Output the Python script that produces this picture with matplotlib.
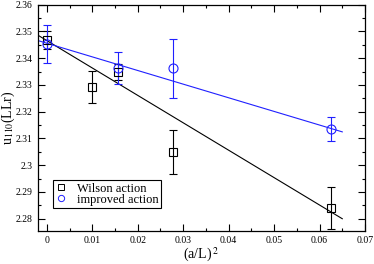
import numpy as np
import matplotlib
matplotlib.use("Agg")
import matplotlib.pyplot as plt
from matplotlib.ticker import MultipleLocator
from matplotlib.lines import Line2D

# data
x_wil = [0.0, 0.01, 0.015625, 0.02778, 0.0625]
y_wil = [2.3468, 2.3292, 2.3347, 2.3050, 2.2840]
e_wil = [0.0035, 0.0061, 0.0030, 0.0082, 0.0078]

x_imp = [0.0, 0.015625, 0.02778, 0.0625]
y_imp = [2.3452, 2.3362, 2.3362, 2.3135]
e_imp = [0.0071, 0.0060, 0.0110, 0.0045]

# linear fits: intercept, slope, x range
fit_wil = [2.3466, -1.025]
fit_imp = [2.3456, -0.51]
fit_x = [-0.002, 0.065]

blue = '#2020ff'

plt.rcParams['font.family'] = ['Liberation Serif', 'DejaVu Serif']
plt.rcParams['mathtext.fontset'] = 'stix'

fig = plt.figure(figsize=(3.74, 2.64), dpi=100)
ax = fig.add_axes([37.7 / 374, 1 - 230.7 / 264, (365 - 37.7) / 374, (230.7 - 4.7) / 264])

xf = np.array(fit_x)
ax.plot(xf, fit_wil[0] + fit_wil[1] * xf, color='black', lw=0.8)
ax.plot(xf, fit_imp[0] + fit_imp[1] * xf, color=blue, lw=0.8)

ax.errorbar(x_wil, y_wil, yerr=e_wil, fmt='s', mfc='none', mec='black', ecolor='black',
            ms=5.5, mew=0.8, elinewidth=0.8, capsize=3, capthick=0.8)
ax.errorbar(x_imp, y_imp, yerr=e_imp, fmt='o', mfc='none', mec=blue, ecolor=blue,
            ms=6.5, mew=0.8, elinewidth=0.8, capsize=3, capthick=0.8)

ax.set_xlim(-0.002, 0.07)
ax.set_ylim(2.2755, 2.36)
ax.xaxis.set_minor_locator(MultipleLocator(0.005))
ax.yaxis.set_minor_locator(MultipleLocator(0.005))
xt = np.arange(0, 0.0701, 0.01)
ax.set_xticks(xt)
ax.set_xticklabels(['0'] + ['%g' % round(v, 2) for v in xt[1:]])
yt = np.arange(2.28, 2.3601, 0.01)
ax.set_yticks(yt)
ax.set_yticklabels(['%g' % round(v, 2) for v in yt])
ax.tick_params(which='both', direction='in', top=True, right=True, labelsize=7, width=0.8)
ax.tick_params(which='major', length=5)
ax.tick_params(which='minor', length=2.5)
for s in ax.spines.values():
    s.set_linewidth(0.9)

ax.set_xlabel(r'(a/L)$^{\,2}$', fontsize=10)
ax.xaxis.set_label_coords(0.5, -0.065)
ax.set_ylabel(r'u$_{110}$(LLr)', fontsize=10)
ax.yaxis.set_label_coords(-0.062, 0.5)

handles = [Line2D([], [], ls='none', marker='s', mfc='none', mec='black', ms=4, mew=0.7),
           Line2D([], [], ls='none', marker='o', mfc='none', mec=blue, ms=4.5, mew=0.7)]
leg = ax.legend(handles, ['Wilson action', 'improved action'], loc='lower left',
                bbox_to_anchor=(0.047, 0.1), fontsize=9, frameon=True,
                fancybox=False, edgecolor='black', framealpha=1, handlelength=0.8,
                handletextpad=0.9, borderpad=0.2, labelspacing=-0.1, borderaxespad=0)
leg.get_frame().set_linewidth(0.8)

fig.savefig('out.png', dpi=100)
